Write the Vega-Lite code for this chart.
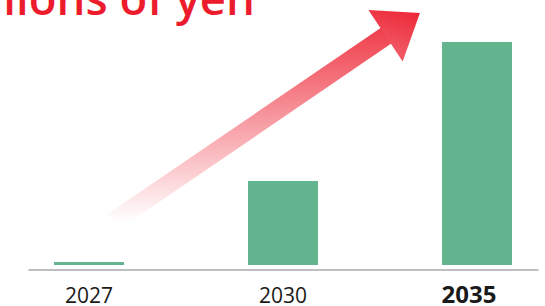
{
  "$schema": "https://vega.github.io/schema/vega-lite/v6.json",
  "width": 510,
  "height": 235,
  "autosize": "none",
  "padding": {"left": 28, "top": 30, "right": 7, "bottom": 41},
  "title": {
    "text": "Billions of yen",
    "anchor": "start",
    "frame": "group",
    "color": "#ec1c2d",
    "font": "Open Sans",
    "fontSize": 45.5,
    "fontWeight": 600,
    "baseline": "alphabetic",
    "offset": 0,
    "dx": -80,
    "dy": 65.5
  },
  "config": {"view": {"stroke": null}},
  "datasets": {
    "bars": [
      {"year": "2027", "value": 1.35},
      {"year": "2030", "value": 37.7},
      {"year": "2035", "value": 100}
    ],
    "shaft": [
      {"u": 1.667, "v": 19.3},
      {"u": 7.098, "v": 104.05}
    ],
    "head": [
      {"u": 7.178, "v": 105.35}
    ]
  },
  "layer": [
    {
      "data": {"name": "bars"},
      "mark": {"type": "bar", "color": "#63b590"},
      "encoding": {
        "x": {
          "field": "year",
          "type": "ordinal",
          "scale": {"paddingInner": 0.6392, "paddingOuter": 0.134},
          "axis": {
            "title": null,
            "labelAngle": 0,
            "ticks": false,
            "tickSize": 0,
            "domainColor": "#bfbfbf",
            "domainWidth": 2,
            "offset": 4.5,
            "labelBaseline": "alphabetic",
            "labelPadding": 32.5,
            "labelFont": "Open Sans",
            "labelColor": "#1a1a1a",
            "labelOffset": {"condition": {"test": "datum.label == '2035'", "value": -8}, "value": 0},
            "labelFontSize": {"condition": {"test": "datum.label == '2035'", "value": 24}, "value": 21},
            "labelFontWeight": {"condition": {"test": "datum.label == '2035'", "value": "bold"}, "value": "normal"}
          }
        },
        "y": {
          "field": "value",
          "type": "quantitative",
          "scale": {"domain": [0, 105.4], "nice": false},
          "axis": null
        }
      }
    },
    {
      "data": {"name": "shaft"},
      "mark": {
        "type": "line",
        "strokeWidth": 19,
        "strokeCap": "butt",
        "stroke": {
          "gradient": "linear",
          "x1": 0, "y1": 1, "x2": 0, "y2": 0,
          "stops": [
            {"offset": 0, "color": "#ffffff"},
            {"offset": 1, "color": "#f04350"}
          ]
        }
      },
      "encoding": {
        "x": {"field": "u", "type": "quantitative", "scale": {"domain": [0, 10], "nice": false}, "axis": null},
        "y": {"field": "v", "type": "quantitative"}
      }
    },
    {
      "data": {"name": "head"},
      "mark": {
        "type": "point",
        "shape": "M0,-1L1,0.33L-1,0.33Z",
        "size": 3844,
        "angle": 56.5,
        "filled": true,
        "opacity": 1,
        "strokeWidth": 0,
        "fill": {
          "gradient": "linear",
          "x1": 0.9, "y1": 0.8, "x2": 0.1, "y2": 0.15,
          "stops": [
            {"offset": 0, "color": "#f15562"},
            {"offset": 1, "color": "#ec1c2d"}
          ]
        }
      },
      "encoding": {
        "x": {"field": "u", "type": "quantitative", "scale": {"domain": [0, 10], "nice": false}, "axis": null},
        "y": {"field": "v", "type": "quantitative"}
      }
    }
  ],
  "resolve": {"scale": {"x": "independent"}}
}
